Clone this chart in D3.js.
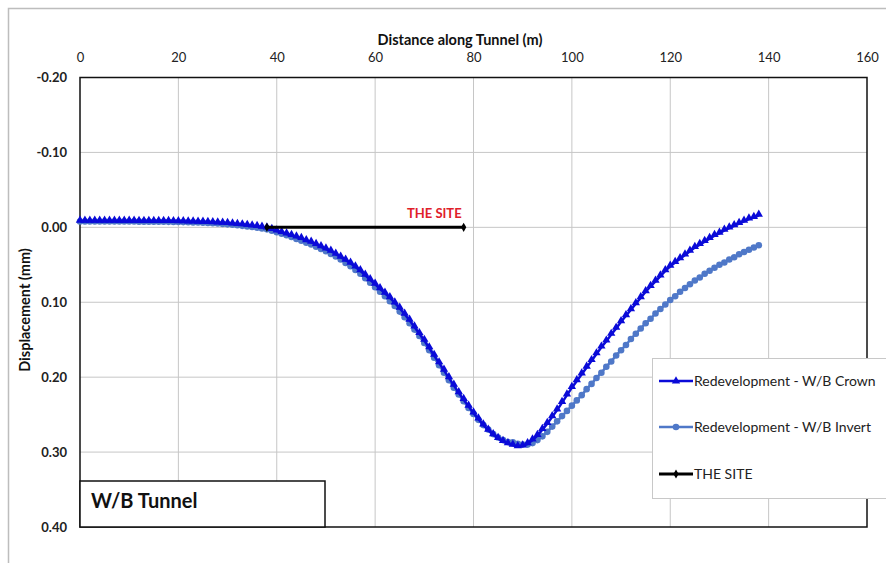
<!DOCTYPE html>
<html>
<head>
<meta charset="utf-8">
<script src="https://cdn.jsdelivr.net/npm/d3@7"></script>
<style>
  html, body { margin: 0; padding: 0; background: #fff; }
  svg text { font-family: Lato, "Open Sans", sans-serif; }
</style>
</head>
<body>
<svg id="chart" width="886" height="563"></svg>
<script>
// Distance along tunnel (m), one reading per metre
const distance = d3.range(0, 139);

// Vertical displacement (mm) along the W/B tunnel crown
const crownDisp = [
  -0.0080, -0.0080, -0.0080, -0.0080, -0.0080, -0.0080, -0.0080, -0.0080, -0.0079, -0.0079,
  -0.0079, -0.0079, -0.0078, -0.0078, -0.0078, -0.0077, -0.0077, -0.0076, -0.0076, -0.0075,
  -0.0074, -0.0073, -0.0071, -0.0070, -0.0068, -0.0066, -0.0063, -0.0060, -0.0057, -0.0053,
  -0.0049, -0.0044, -0.0038, -0.0032, -0.0025, -0.0017, -0.0009, 0.0000, 0.0010, 0.0030,
  0.0050, 0.0070, 0.0090, 0.0110, 0.0130, 0.0150, 0.0180, 0.0200, 0.0230, 0.0260,
  0.0290, 0.0320, 0.0360, 0.0400, 0.0440, 0.0480, 0.0530, 0.0580, 0.0640, 0.0700,
  0.0760, 0.0820, 0.0880, 0.0940, 0.1010, 0.1080, 0.1160, 0.1240, 0.1330, 0.1420,
  0.1510, 0.1610, 0.1710, 0.1810, 0.1910, 0.2010, 0.2110, 0.2210, 0.2300, 0.2390,
  0.2480, 0.2560, 0.2640, 0.2710, 0.2770, 0.2820, 0.2860, 0.2890, 0.2910, 0.2930,
  0.2920, 0.2890, 0.2840, 0.2780, 0.2700, 0.2620, 0.2530, 0.2440, 0.2340, 0.2240,
  0.2140, 0.2050, 0.1960, 0.1870, 0.1780, 0.1690, 0.1600, 0.1520, 0.1430, 0.1350,
  0.1260, 0.1180, 0.1100, 0.1020, 0.0940, 0.0860, 0.0790, 0.0720, 0.0650, 0.0580,
  0.0520, 0.0470, 0.0420, 0.0370, 0.0320, 0.0270, 0.0230, 0.0190, 0.0150, 0.0110,
  0.0080, 0.0040, 0.0010, -0.0020, -0.0050, -0.0080, -0.0110, -0.0130, -0.0160
];

// Vertical displacement (mm) along the W/B tunnel invert
const invertDisp = [
  -0.0078, -0.0078, -0.0078, -0.0078, -0.0078, -0.0078, -0.0078, -0.0078, -0.0077, -0.0077,
  -0.0077, -0.0077, -0.0076, -0.0076, -0.0076, -0.0075, -0.0075, -0.0074, -0.0073, -0.0072,
  -0.0071, -0.0070, -0.0068, -0.0066, -0.0064, -0.0061, -0.0058, -0.0055, -0.0051, -0.0046,
  -0.0040, -0.0034, -0.0027, -0.0020, -0.0012, -0.0004, 0.0005, 0.0015, 0.0027, 0.0045,
  0.0065, 0.0085, 0.0105, 0.0130, 0.0155, 0.0180, 0.0205, 0.0230, 0.0260, 0.0290,
  0.0320, 0.0355, 0.0390, 0.0430, 0.0475, 0.0520, 0.0570, 0.0620, 0.0680, 0.0740,
  0.0800, 0.0860, 0.0920, 0.0985, 0.1050, 0.1125, 0.1200, 0.1280, 0.1365, 0.1450,
  0.1545, 0.1640, 0.1740, 0.1840, 0.1940, 0.2040, 0.2140, 0.2230, 0.2320, 0.2410,
  0.2490, 0.2570, 0.2640, 0.2700, 0.2760, 0.2805, 0.2840, 0.2865, 0.2870, 0.2890,
  0.2900, 0.2900, 0.2880, 0.2840, 0.2790, 0.2730, 0.2660, 0.2590, 0.2520, 0.2450,
  0.2380, 0.2310, 0.2240, 0.2160, 0.2090, 0.2010, 0.1940, 0.1860, 0.1790, 0.1710,
  0.1640, 0.1570, 0.1490, 0.1420, 0.1350, 0.1280, 0.1220, 0.1150, 0.1090, 0.1030,
  0.0970, 0.0920, 0.0860, 0.0810, 0.0760, 0.0710, 0.0670, 0.0620, 0.0580, 0.0540,
  0.0500, 0.0470, 0.0430, 0.0400, 0.0360, 0.0330, 0.0300, 0.0270, 0.0240
];

// Extent of the site along the tunnel
const siteDistance = [38, 78];
const siteDisp = [0, 0];

// Axis ticks
const xTicks = [0, 20, 40, 60, 80, 100, 120, 140, 160];
const yTicks = [-0.2, -0.1, 0.0, 0.1, 0.2, 0.3, 0.4];

const seriesNames = ["Redevelopment - W/B Crown", "Redevelopment - W/B Invert", "THE SITE"];
const crownColor = "#0a0ad8";
const invertColor = "#4f78c8";

const svg = d3.select("#chart");

// Chart area frame
svg.append("rect")
  .attr("x", 8.5).attr("y", 8.5).attr("width", 900).attr("height", 600)
  .attr("fill", "#fff").attr("stroke", "#bdbdbd").attr("stroke-width", 1.5);

const plot = { left: 80, right: 867, top: 77.5, bottom: 527 };

const x = d3.scaleLinear().domain([0, 160]).range([plot.left, plot.right]);
// Settlement is positive downwards, so the axis runs from -0.20 at the top to 0.40 at the bottom
const y = d3.scaleLinear().domain([-0.2, 0.4]).range([plot.top, plot.bottom]);

// Gridlines
const grid = svg.append("g");
grid.selectAll("line.vx").data(xTicks.slice(1, -1)).join("line")
  .attr("x1", d => x(d)).attr("x2", d => x(d))
  .attr("y1", plot.top).attr("y2", plot.bottom)
  .attr("stroke", "#c6c6c6").attr("stroke-width", 1);
grid.selectAll("line.hy").data(yTicks.slice(1, -1)).join("line")
  .attr("x1", plot.left).attr("x2", plot.right)
  .attr("y1", d => y(d)).attr("y2", d => y(d))
  .attr("stroke", "#c6c6c6").attr("stroke-width", 1);

// Top (distance) axis
const xAxis = d3.axisTop(x).tickValues(xTicks).tickSize(0).tickPadding(0).tickFormat(d3.format("d"));
const gx = svg.append("g").attr("transform", `translate(0,${plot.top - 16})`).call(xAxis);
gx.select(".domain").remove();
gx.selectAll("text").attr("font-size", 13).attr("fill", "#222")
  .attr("font-family", "Lato, sans-serif");

// Left (displacement) axis, plain hyphen for negatives
const fmt2 = d3.format(".2f");
const yAxis = d3.axisLeft(y).tickValues(yTicks).tickSize(0).tickPadding(0)
  .tickFormat(d => fmt2(d).replace("\u2212", "-"));
const gy = svg.append("g").attr("transform", `translate(${plot.left - 13},0)`).call(yAxis);
gy.select(".domain").remove();
gy.selectAll("text").attr("font-size", 13).attr("font-weight", "bold").attr("fill", "#222")
  .attr("font-family", "Lato, sans-serif");

// Plot frame
svg.append("rect")
  .attr("x", plot.left).attr("y", plot.top)
  .attr("width", plot.right - plot.left).attr("height", plot.bottom - plot.top)
  .attr("fill", "none").attr("stroke", "#111").attr("stroke-width", 1.5);

// Axis titles
svg.append("text")
  .attr("x", 460).attr("y", 45).attr("text-anchor", "middle")
  .attr("font-size", 14.5).attr("font-weight", "bold").attr("fill", "#111")
  .text("Distance along Tunnel (m)");
svg.append("text")
  .attr("transform", `translate(30,310) rotate(-90)`).attr("text-anchor", "middle")
  .attr("font-size", 14.5).attr("font-weight", "bold").attr("fill", "#111")
  .text("Displacement (mm)");

// Series
const line = d3.line().x(d => x(d[0])).y(d => y(d[1]));
const invertPts = distance.map((d, i) => [d, invertDisp[i]]);
const crownPts = distance.map((d, i) => [d, crownDisp[i]]);
const sitePts = siteDistance.map((d, i) => [d, siteDisp[i]]);

const triangle = d3.symbol().type(d3.symbolTriangle).size(30);
const circle = d3.symbol().type(d3.symbolCircle).size(34);
const diamond = d3.symbol().type(d3.symbolDiamond).size(24);

// Invert
svg.append("path").datum(invertPts).attr("d", line)
  .attr("fill", "none").attr("stroke", invertColor).attr("stroke-width", 2.5);
svg.append("g").selectAll("path").data(invertPts).join("path")
  .attr("d", circle).attr("transform", d => `translate(${x(d[0])},${y(d[1])})`)
  .attr("fill", invertColor);

// Crown
svg.append("path").datum(crownPts).attr("d", line)
  .attr("fill", "none").attr("stroke", crownColor).attr("stroke-width", 2.5);
svg.append("g").selectAll("path").data(crownPts).join("path")
  .attr("d", triangle).attr("transform", d => `translate(${x(d[0])},${y(d[1]) - 1})`)
  .attr("fill", crownColor);

// Site extent
svg.append("path").datum(sitePts).attr("d", line)
  .attr("fill", "none").attr("stroke", "#000").attr("stroke-width", 3);
svg.append("g").selectAll("path").data(sitePts).join("path")
  .attr("d", diamond).attr("transform", d => `translate(${x(d[0])},${y(d[1])})`)
  .attr("fill", "#000");
svg.append("text")
  .attr("x", x(siteDistance[1]) - 2).attr("y", y(0) - 9).attr("text-anchor", "end")
  .attr("font-size", 13).attr("font-weight", "bold").attr("fill", "#e0202a")
  .text("THE SITE");

// Tunnel name box
svg.append("rect")
  .attr("x", plot.left).attr("y", 481).attr("width", 245).attr("height", plot.bottom - 481)
  .attr("fill", "#fff").attr("stroke", "#111").attr("stroke-width", 1.5);
svg.append("text")
  .attr("x", 91).attr("y", 508)
  .attr("font-size", 20).attr("font-weight", "bold").attr("fill", "#111")
  .text("W/B Tunnel");

// Legend
const legend = svg.append("g");
legend.append("rect")
  .attr("x", 652.5).attr("y", 358.5).attr("width", 240).attr("height", 140)
  .attr("fill", "#fff").attr("stroke", "#c8c8c8").attr("stroke-width", 1);
const legendRows = [
  { name: seriesNames[0], color: crownColor, sym: triangle, y: 381, w: 2.5 },
  { name: seriesNames[1], color: invertColor, sym: circle, y: 427, w: 2.5 },
  { name: seriesNames[2], color: "#000", sym: diamond, y: 474, w: 3 }
];
legendRows.forEach(r => {
  legend.append("line")
    .attr("x1", 659).attr("x2", 693).attr("y1", r.y).attr("y2", r.y)
    .attr("stroke", r.color).attr("stroke-width", r.w);
  legend.append("path").attr("d", r.sym).attr("transform", `translate(676,${r.y})`).attr("fill", r.color);
  legend.append("text")
    .attr("x", 694).attr("y", r.y + 5)
    .attr("font-size", 14).attr("fill", "#222")
    .text(r.name);
});
</script>
</body>
</html>
